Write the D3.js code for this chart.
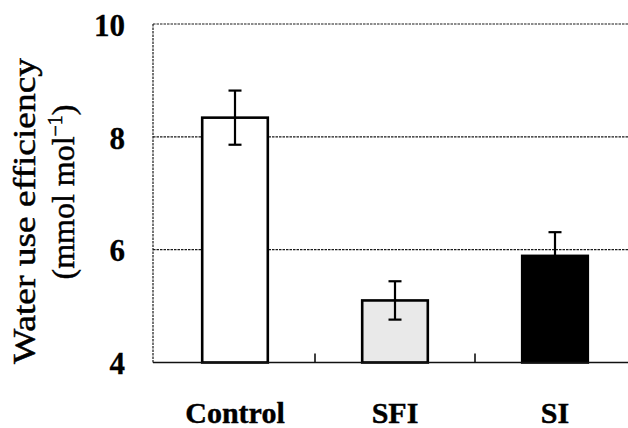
<!DOCTYPE html>
<html>
<head>
<meta charset="utf-8">
<script src="https://cdn.jsdelivr.net/npm/d3@7/dist/d3.min.js"></script>
<style>
  html, body { margin: 0; padding: 0; background: #fff; }
  svg { display: block; }
</style>
</head>
<body>
<svg id="chart" width="628" height="428"></svg>
<script>
// Water use efficiency by irrigation treatment (mean ± SE)
const categories = ["Control", "SFI", "SI"];
const means = [8.34, 5.10, 5.89];
const errors = [0.48, 0.34, 0.42];
const fills = ["#ffffff", "#e9e9e9", "#000000"];
const yTicks = [4, 6, 8, 10];
const yTitle = "Water use efficiency";
const yUnit = "(mmol mol";

const serif = "'Liberation Serif', 'Times New Roman', Times, serif";
const svg = d3.select("#chart");
const plotLeft = 153, plotTop = 24, plotBottom = 362.5, plotRight = 640;

const x = d3.scaleBand()
  .domain(categories)
  .range([155, 635])
  .paddingInner(0.59)
  .paddingOuter(0.295);

const y = d3.scaleLinear().domain([4, 10]).range([plotBottom, plotTop]);

// dotted horizontal gridlines at 6, 8 and 10
svg.append("g")
  .selectAll("line")
  .data(yTicks.filter(d => d > 4))
  .join("line")
  .attr("x1", plotLeft).attr("x2", plotRight)
  .attr("y1", d => y(d)).attr("y2", d => y(d))
  .attr("stroke", "#1a1a1a")
  .attr("stroke-width", 1.1)
  .attr("stroke-dasharray", "2.5,1");

// left axis (dotted) with its tick labels
svg.append("line")
  .attr("x1", plotLeft).attr("x2", plotLeft)
  .attr("y1", plotTop).attr("y2", plotBottom)
  .attr("stroke", "#1a1a1a")
  .attr("stroke-width", 1.2)
  .attr("stroke-dasharray", "2.5,1");

const yAxis = d3.axisLeft(y).tickValues(yTicks).tickFormat(d3.format("d")).tickSize(0).tickPadding(0);
const yg = svg.append("g").attr("transform", `translate(${plotLeft - 28},0)`).call(yAxis);
yg.select(".domain").remove();
yg.attr("font-family", null);
yg.selectAll("text")
  .style("font-family", serif)
  .style("font-size", "31px")
  .style("font-weight", "bold")
  .attr("fill", "#000")
  .attr("stroke", "#000")
  .attr("stroke-width", 0.3)
  .attr("dy", "0.36em");

// bars
svg.append("g")
  .selectAll("rect")
  .data(categories)
  .join("rect")
  .attr("x", d => x(d))
  .attr("width", x.bandwidth())
  .attr("y", (d, i) => y(means[i]))
  .attr("height", (d, i) => plotBottom - y(means[i]))
  .attr("fill", (d, i) => fills[i])
  .attr("stroke", "#000")
  .attr("stroke-width", 2.6);

// bottom axis with upward ticks between categories
svg.append("line")
  .attr("x1", plotLeft).attr("x2", plotRight)
  .attr("y1", plotBottom).attr("y2", plotBottom)
  .attr("stroke", "#111")
  .attr("stroke-width", 1.6);

const bounds = categories.slice(1).map(c => x(c) - x.step() * x.paddingInner() / 2);
svg.append("g")
  .selectAll("line")
  .data(bounds)
  .join("line")
  .attr("x1", d => d).attr("x2", d => d)
  .attr("y1", plotBottom).attr("y2", plotBottom - 9)
  .attr("stroke", "#111")
  .attr("stroke-width", 1.6);

// error bars
const capW = 13;
const eb = svg.append("g").attr("stroke", "#000").attr("stroke-width", 2.2);
categories.forEach((c, i) => {
  const cx = x(c) + x.bandwidth() / 2;
  const hi = y(means[i] + errors[i]), lo = y(means[i] - errors[i]);
  eb.append("line").attr("x1", cx).attr("x2", cx).attr("y1", hi).attr("y2", lo);
  eb.append("line").attr("x1", cx - capW / 2).attr("x2", cx + capW / 2).attr("y1", hi).attr("y2", hi);
  eb.append("line").attr("x1", cx - capW / 2).attr("x2", cx + capW / 2).attr("y1", lo).attr("y2", lo);
});

// category labels
svg.append("g")
  .selectAll("text")
  .data(categories)
  .join("text")
  .style("font-family", serif)
  .style("font-size", "30px")
  .style("font-weight", "bold")
  .attr("x", d => x(d) + x.bandwidth() / 2)
  .attr("y", 423)
  .attr("text-anchor", "middle")
  .attr("fill", "#000")
  .attr("stroke", "#000")
  .attr("stroke-width", 0.4)
  .text(d => d);

// y-axis title, two lines
svg.append("text")
  .style("font-family", serif)
  .style("font-size", "32px")
  .attr("transform", "translate(35,211) rotate(-90)")
  .attr("text-anchor", "middle")
  .attr("fill", "#000")
  .attr("stroke", "#000")
  .attr("stroke-width", 0.5)
  .attr("textLength", 306)
  .attr("lengthAdjust", "spacingAndGlyphs")
  .text(yTitle);

const unit = svg.append("text")
  .style("font-family", serif)
  .style("font-size", "32px")
  .attr("transform", "translate(74,192) rotate(-90)")
  .attr("text-anchor", "middle")
  .attr("fill", "#000")
  .attr("stroke", "#000")
  .attr("stroke-width", 0.5);
unit.append("tspan").text(yUnit);
unit.append("tspan").style("font-size", "20px").attr("dy", -12).text("−1");
unit.append("tspan").attr("dy", 12).text(")");
</script>
</body>
</html>
